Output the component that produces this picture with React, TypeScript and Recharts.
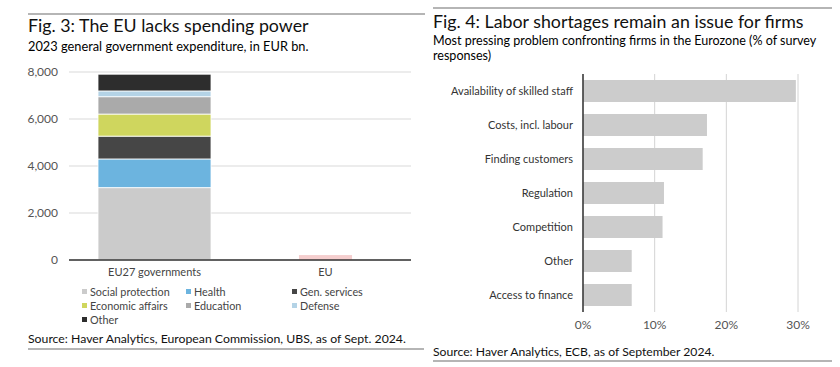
import React from 'react';
import { BarChart, Bar, XAxis, YAxis, CartesianGrid } from 'recharts';

// Fig. 3 data, EUR bn (2023)
const spendCategories = ['EU27 governments', 'EU'];
const socialProtection = [3080, null];
const health = [1220, null];
const genServices = [970, null];
const economicAffairs = [940, null];
const education = [740, null];
const defense = [245, null];
const other = [710, null];
const euBudget = [null, 210];
const spendTicks = [0, 2000, 4000, 6000, 8000];

// Fig. 4 data, % of survey responses
const problems = [
  'Availability of skilled staff',
  'Costs, incl. labour',
  'Finding customers',
  'Regulation',
  'Competition',
  'Other',
  'Access to finance',
];
const shares = [29.7, 17.3, 16.7, 11.3, 11.1, 6.8, 6.8];
const shareTicks = [0, 10, 20, 30];

const FONT = 'Lato, "Open Sans", sans-serif';

const spendSeries = [
  { key: 'social', name: 'Social protection', values: socialProtection, color: '#cbcbcb' },
  { key: 'health', name: 'Health', values: health, color: '#6cb4df' },
  { key: 'gen', name: 'Gen. services', values: genServices, color: '#464646' },
  { key: 'econ', name: 'Economic affairs', values: economicAffairs, color: '#cfd65e' },
  { key: 'edu', name: 'Education', values: education, color: '#aaaaaa' },
  { key: 'def', name: 'Defense', values: defense, color: '#b4d3e6' },
  { key: 'other', name: 'Other', values: other, color: '#2d2d2d' },
];

const spendData = spendCategories.map((c, i) => {
  const row: any = { category: c, eu: euBudget[i] };
  spendSeries.forEach((s) => (row[s.key] = s.values[i]));
  return row;
});

const problemData = problems.map((p, i) => ({ problem: p, share: shares[i] }));

// the EU bar is drawn thinner than the EU27 stack
const NarrowBar = (props: any) => {
  const { x, y, width, height, fill } = props;
  if (!height) return null;
  const w = width * 0.47;
  return <rect x={x + (width - w) / 2} y={y} width={w} height={height} fill={fill} />;
};

// single-line category labels (no wrapping)
const ProblemTick = (props: any) => {
  const { x, y, payload } = props;
  return (
    <text x={x} y={y} dy={4} textAnchor="end" fontSize={11} fill="#333" fontFamily={FONT}>
      {payload.value}
    </text>
  );
};

const text = (style: React.CSSProperties, content: React.ReactNode) => (
  <div style={{ position: 'absolute', fontFamily: FONT, whiteSpace: 'nowrap', ...style }}>{content}</div>
);

const rule = (left: number, top: number, width: number) => (
  <div style={{ position: 'absolute', left, top, width, height: 1.5, background: '#b5b5b5' }} />
);

export default function App() {
  const legendCols = [82, 186, 292];
  return (
    <div style={{ position: 'absolute', left: 0, top: 0, width: 840, height: 367, background: '#fff', overflow: 'hidden' }}>
      {rule(28, 13, 397)}
      {rule(433, 7, 399)}
      {text({ left: 28, top: 13, fontSize: 17.8, lineHeight: '24px', color: '#111' }, 'Fig. 3: The EU lacks spending power')}
      {text({ left: 28, top: 38, fontSize: 12.8, lineHeight: '16px', color: '#000' }, '2023 general government expenditure, in EUR bn.')}
      {text({ left: 433, top: 9, fontSize: 17.8, lineHeight: '24px', color: '#111' }, 'Fig. 4: Labor shortages remain an issue for firms')}
      {text({ left: 433, top: 33, fontSize: 12.55, lineHeight: '15px', color: '#000' }, 'Most pressing problem confronting firms in the Eurozone (% of survey')}
      {text({ left: 433, top: 48, fontSize: 12.55, lineHeight: '15px', color: '#000' }, 'responses)')}

      <div style={{ position: 'absolute', left: 0, top: 0 }}>
        <BarChart width={420} height={367} data={spendData} margin={{ top: 72, right: 9, bottom: 87, left: 9 }} barSize={113}>
          <CartesianGrid vertical={false} stroke="#d9d9d9" />
          <XAxis
            dataKey="category"
            height={20}
            tickLine={false}
            axisLine={{ stroke: '#333', strokeWidth: 1.5 }}
            tick={{ fontSize: 11, fill: '#444', fontFamily: FONT }}
          />
          <YAxis
            width={60}
            domain={[0, 8000]}
            ticks={spendTicks}
            axisLine={false}
            tickLine={false}
            tickMargin={5}
            tickFormatter={(v: number) => v.toLocaleString('en-US')}
            tick={{ fontSize: 12, fill: '#555', fontFamily: FONT }}
          />
          {spendSeries.map((s) => (
            <Bar key={s.key} dataKey={s.key} name={s.name} stackId="a" fill={s.color} stroke="#fff" strokeWidth={0.8} isAnimationActive={false} />
          ))}
          <Bar dataKey="eu" name="EU" stackId="a" fill="#f5cece" shape={NarrowBar} isAnimationActive={false} />
        </BarChart>
      </div>

      {spendSeries.map((s, i) => {
        const col = i % 3;
        const row = Math.floor(i / 3);
        return (
          <div key={s.key} style={{ position: 'absolute', left: legendCols[col], top: 284 + row * 14, height: 14, display: 'flex', alignItems: 'center', fontFamily: FONT, fontSize: 10.8, color: '#444', whiteSpace: 'nowrap' }}>
            <span style={{ display: 'inline-block', width: 5, height: 5, background: s.color, marginRight: 3 }} />
            {s.name}
          </div>
        );
      })}

      {text({ left: 28, top: 331, fontSize: 12.25, lineHeight: '16px', color: '#111' }, 'Source: Haver Analytics, European Commission, UBS, as of Sept. 2024.')}
      {rule(28, 348, 396)}

      <div style={{ position: 'absolute', left: 420, top: 0 }}>
        <BarChart width={420} height={367} data={problemData} layout="vertical" margin={{ top: 74, right: 42, bottom: 35, left: 3 }} barSize={22}>
          <CartesianGrid horizontal={false} stroke="#d4d4d4" />
          <XAxis
            type="number"
            domain={[0, 30]}
            ticks={shareTicks}
            height={20}
            axisLine={false}
            tickLine={false}
            tickFormatter={(v: number) => `${v}%`}
            tick={{ fontSize: 12, fill: '#555', fontFamily: FONT }}
          />
          <YAxis
            type="category"
            dataKey="problem"
            width={160}
            tickLine={false}
            tickMargin={4}
            axisLine={{ stroke: '#333', strokeWidth: 1.5 }}
            tick={ProblemTick}
          />
          <Bar dataKey="share" fill="#cccccc" isAnimationActive={false} />
        </BarChart>
      </div>

      {text({ left: 433, top: 344, fontSize: 12.2, lineHeight: '16px', color: '#111' }, 'Source: Haver Analytics, ECB, as of September 2024.')}
      {rule(433, 360, 399)}
    </div>
  );
}
